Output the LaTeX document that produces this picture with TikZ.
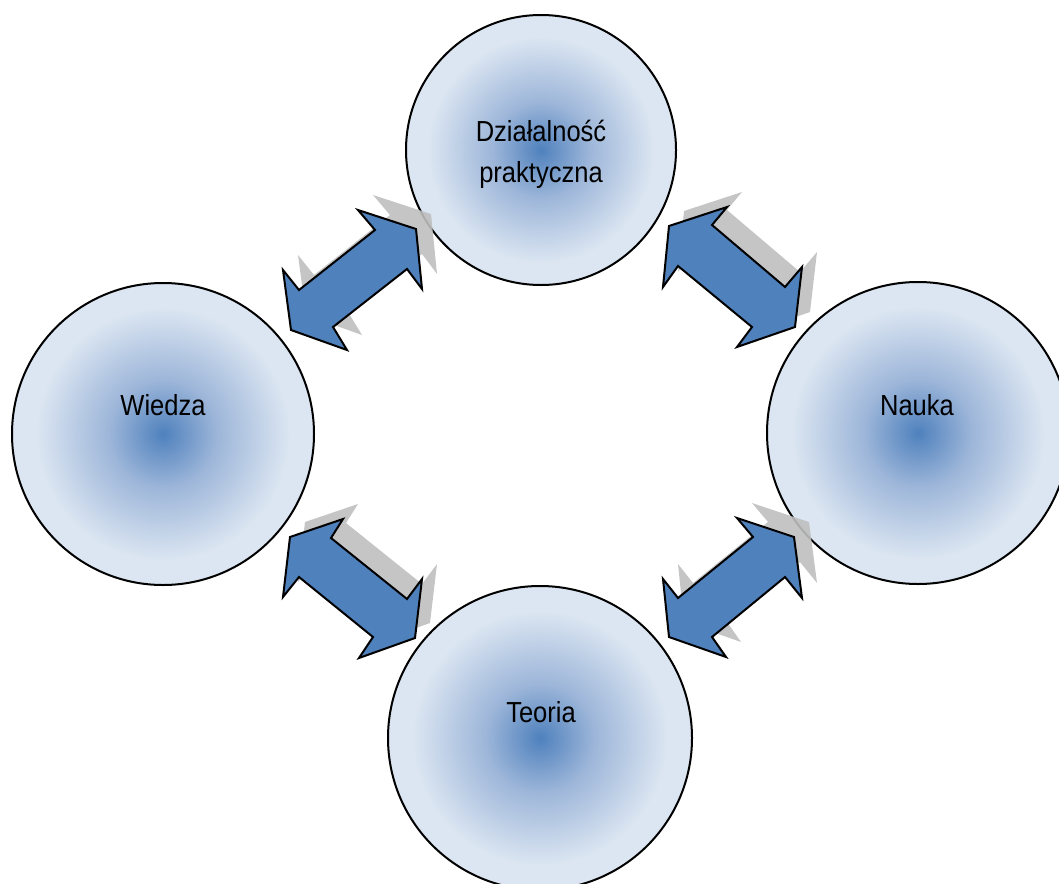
\documentclass[tikz,border=0pt]{standalone}
\usepackage{fontspec}
\setmainfont{Liberation Sans}
\newfontfamily\lblfont[FakeStretch=0.88]{Liberation Sans}
\usepackage{tikz}
\usetikzlibrary{calc}
\usetikzlibrary{positioning}
\definecolor{ballblue}{HTML}{4F81BD}
\definecolor{ballmid}{HTML}{9DB6D9}
\definecolor{ballrim}{HTML}{DCE6F2}
\definecolor{arrowblue}{HTML}{4F81BD}
\pgfdeclareradialshading{ballshade}{\pgfpoint{0bp}{0bp}}{%
  color(0bp)=(ballblue); color(9bp)=(ballmid); color(21bp)=(ballrim); color(50bp)=(ballrim)}
\tikzset{
  ball/.style={circle, draw=black, line width=2pt, inner sep=0pt, shading=ballshade},
  lbl/.style={font=\lblfont\fontsize{29}{41}\selectfont, align=center, inner sep=0pt},
  arrshadow/.style={fill=black!25, opacity=0.9},
  arrbody/.style={fill=arrowblue, draw=black, line width=2pt, line join=miter}
}
% double block arrow: shadow first, body on top
\newcommand{\twowayarrow}[1]{%
  \fill[arrshadow, shift={(15,-15)}] #1 -- cycle;
  \draw[arrbody] #1 -- cycle;}

\begin{document}
\begin{tikzpicture}[x=1pt, y=-1pt]
            % Frame to fix the size
            \useasboundingbox (0,0) rectangle (1059,883);
            \clip (0,0) rectangle (1059,883);
            % Circles
            \node[ball, minimum size=270pt] (dzial)  at (541,150) {};
            \node[ball, minimum size=302pt] (wiedza) at (163,434) {};
            \node[ball, minimum size=302pt] (nauka)  at (918,433) {};
            \node[ball, minimum size=304pt] (teoria) at (540,738) {};
            % Labels
            \node[lbl]              (dzialT)  at (541,154) {Działalność\\praktyczna};
            \node[lbl, anchor=base] (wiedzaT) at (163,415) {Wiedza};
            \node[lbl, anchor=base] (naukaT)  at (917,415) {Nauka};
            \node[lbl, anchor=base] (teoriaT) at (541,722) {Teoria};
            % Arrows: Wiedza <-> Dzialalnosc
            \twowayarrow{(358,210) -- (416,229) -- (422,289) -- (407,269) -- (333,327) -- (347,350) -- (291,330) -- (283,270) -- (299,290) -- (375,230)}
            % Dzialalnosc <-> Nauka
            \twowayarrow{(727,207) -- (712,225) -- (785,287) -- (802,267) -- (795,327) -- (737,347) -- (752,327) -- (678,266) -- (663,287) -- (669,226)}
            % Wiedza <-> Teoria
            \twowayarrow{(343,519) -- (331,538) -- (407,599) -- (422,579) -- (415,638) -- (359,658) -- (373,637) -- (299,577) -- (283,597) -- (290,537)}
            % Teoria <-> Nauka
            \twowayarrow{(737,518) -- (794,537) -- (802,598) -- (785,577) -- (712,637) -- (726,657) -- (669,637) -- (663,579) -- (678,598) -- (753,537)}
\end{tikzpicture}
\end{document}
